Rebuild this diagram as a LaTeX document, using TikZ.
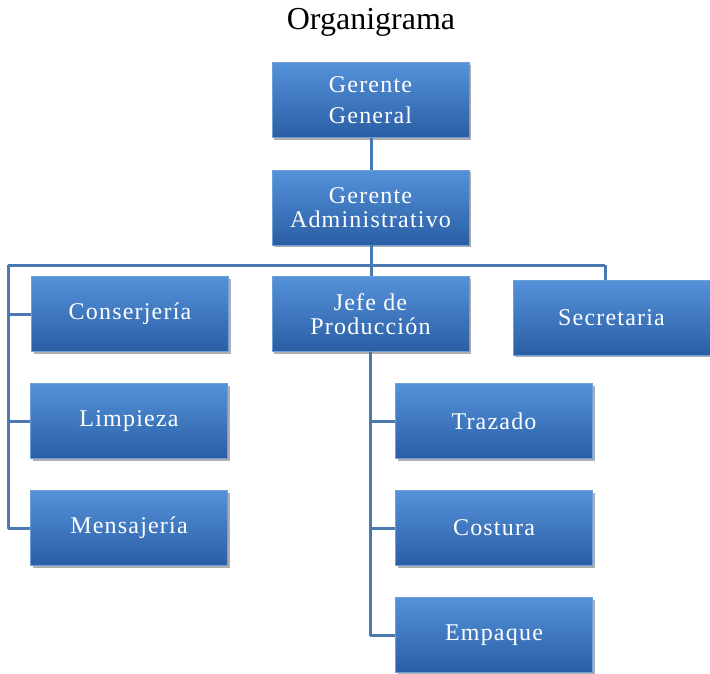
\documentclass[tikz,border=0pt]{standalone}
\usepackage{fontspec}
\setmainfont{Liberation Serif}
\newfontfamily\boxfont[LetterSpace=5]{Liberation Serif}
\usetikzlibrary{shadows}
\definecolor{boxtop}{RGB}{84,146,218}
\definecolor{boxbot}{RGB}{42,94,164}
\definecolor{boxedge}{RGB}{110,160,215}
\definecolor{linecol}{RGB}{74,120,176}
\tikzset{
  orgbox/.style={rectangle, minimum width=197pt, minimum height=75pt,
    top color=boxtop, bottom color=boxbot, draw=boxedge, line width=0.6pt,
    text=white, align=center, font=\boxfont\fontsize{24}{24}\selectfont,
    drop shadow={shadow xshift=2pt, shadow yshift=-2pt, opacity=0.45, fill=black!70}},
  conn/.style={draw=linecol, line width=3pt, line join=round}
}
\begin{document}
\begin{tikzpicture}[x=1pt,y=-1pt]
\useasboundingbox (0,0) rectangle (710,673);
\node (title) at (371,22) {\fontsize{32}{36}\selectfont Organigrama};
\coordinate (hub) at (371,265);
\coordinate (lft) at (8,265);
\coordinate (rgt) at (605,265);
\node[orgbox, font=\boxfont\fontsize{24}{31}\selectfont] (gg) at (370.5,100) {Gerente\\General};
\node[orgbox] (ga) at (370.5,207.5) {Gerente\\Administrativo};
\node[orgbox] (cons) at (130,314) {Conserjería};
\node[orgbox] (limp) at (129,421) {Limpieza};
\node[orgbox] (mens) at (129,528) {Mensajería};
\node[orgbox] (jefe) at (370.5,314) {Jefe de\\Producción};
\node[orgbox] (traz) at (494,421) {Trazado};
\node[orgbox] (cost) at (494,528) {Costura};
\node[orgbox] (emp) at (494,635) {Empaque};
\node[orgbox] (sec) at (611.5,317.5) {Secretaria};
\draw[conn] (gg.south -| hub) -- (ga.north -| hub);
\draw[conn] (ga.south -| hub) -- (hub);
\draw[conn] (lft) -- (rgt);
\draw[conn] (hub) -- (jefe.north -| hub);
\draw[conn] (rgt) -- (sec.north -| rgt);
\draw[conn] (lft) |- (mens.west);
\draw[conn] (lft |- cons.west) -- (cons.west);
\draw[conn] (lft |- limp.west) -- (limp.west);
\draw[conn] (jefe.south) |- (emp.west);
\draw[conn] (jefe.south |- traz.west) -- (traz.west);
\draw[conn] (jefe.south |- cost.west) -- (cost.west);
\end{tikzpicture}
\end{document}
